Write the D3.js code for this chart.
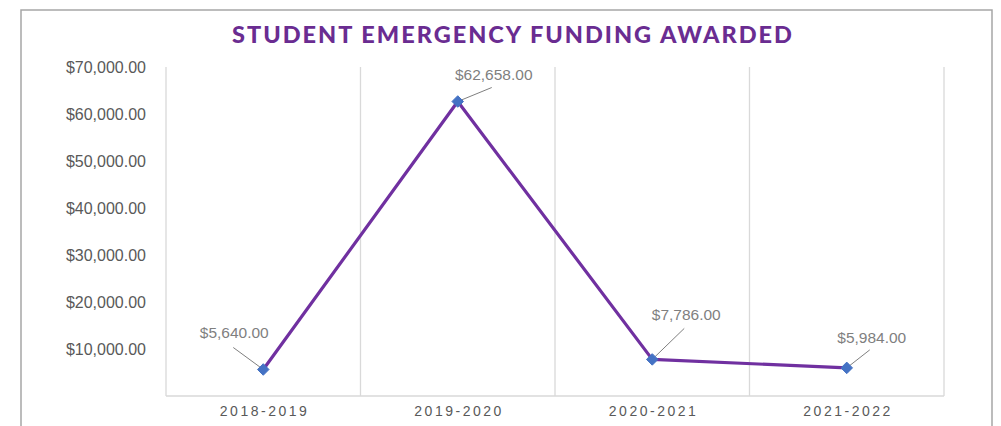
<!DOCTYPE html>
<html>
<head>
<meta charset="utf-8">
<script src="https://cdn.jsdelivr.net/npm/d3@7"></script>
<style>
  html, body { margin: 0; padding: 0; background: #fff; }
  svg { display: block; }
</style>
</head>
<body>
<svg id="chart" width="1001" height="426"></svg>
<script>
// Award totals by academic year
const years = ["2018-2019", "2019-2020", "2020-2021", "2021-2022"];
const awarded = [5640, 62658, 7786, 5984];
const yTicks = [10000, 20000, 30000, 40000, 50000, 60000, 70000];
const titleText = "STUDENT EMERGENCY FUNDING AWARDED";

// Data-label placement relative to each point (pixels)
const labelOffsets = [[-29, -37], [36, -27], [34, -45], [25, -30]];
const leaderEnds = [[-30, -22], [34, -14], [32, -31], [23, -18]];

const svg = d3.select("#chart");
const plot = { left: 166, right: 944, top: 67, bottom: 396 };

// Outer chart frame
svg.append("rect")
  .attr("x", 21).attr("y", 10)
  .attr("width", 971).attr("height", 430)
  .attr("fill", "#fff").attr("stroke", "#a6a6a6").attr("stroke-width", 1.5);

const x = d3.scaleBand().domain(years).range([plot.left, plot.right]).padding(0);
const y = d3.scaleLinear().domain([0, 70000]).range([plot.bottom, plot.top]);

// Vertical category gridlines
const bounds = years.map(d => x(d)).concat([plot.right]);
svg.append("g").selectAll("line").data(bounds).join("line")
  .attr("x1", d => d).attr("x2", d => d)
  .attr("y1", plot.top).attr("y2", plot.bottom)
  .attr("stroke", "#d9d9d9").attr("stroke-width", 1.3);

// Baseline
svg.append("line")
  .attr("x1", plot.left).attr("x2", plot.right)
  .attr("y1", plot.bottom).attr("y2", plot.bottom)
  .attr("stroke", "#d9d9d9").attr("stroke-width", 1.3);

// Y axis labels
const fmt = d3.format("$,.2f");
const yAxis = d3.axisLeft(y).tickValues(yTicks).tickFormat(fmt).tickSize(0).tickPadding(0);
const gy = svg.append("g").attr("transform", `translate(${plot.left - 20},0)`).call(yAxis);
gy.select(".domain").remove();
gy.selectAll("text")
  .attr("fill", "#595959")
  .style("font-family", "'Liberation Sans', Arial, sans-serif")
  .style("font-size", "16px");

// X axis labels
const xAxis = d3.axisBottom(x).tickSize(0).tickPadding(0);
const gx = svg.append("g").attr("transform", `translate(1.3,${plot.bottom + 10})`).call(xAxis);
gx.select(".domain").remove();
gx.selectAll("text")
  .attr("fill", "#595959")
  .attr("dy", "0.71em")
  .style("font-family", "'Liberation Sans', Arial, sans-serif")
  .style("font-size", "14px")
  .style("letter-spacing", "2.5px");

// Title
svg.append("text")
  .attr("x", 513).attr("y", 43)
  .attr("text-anchor", "middle")
  .attr("fill", "#6a2c91")
  .style("font-family", "Lato, 'Open Sans', sans-serif")
  .style("font-weight", "900")
  .style("font-size", "23.5px")
  .style("letter-spacing", "2px")
  .text(titleText);

const pts = years.map((d, i) => ({ year: d, v: awarded[i], px: x(d) + x.bandwidth() / 2, py: y(awarded[i]) }));

// Line
svg.append("path")
  .datum(pts)
  .attr("fill", "none")
  .attr("stroke", "#7030a0")
  .attr("stroke-width", 3.2)
  .attr("stroke-linejoin", "round")
  .attr("d", d3.line().x(d => d.px).y(d => d.py));

// Leader lines
svg.append("g").selectAll("line").data(pts).join("line")
  .attr("x1", d => d.px).attr("y1", d => d.py)
  .attr("x2", (d, i) => d.px + leaderEnds[i][0])
  .attr("y2", (d, i) => d.py + leaderEnds[i][1])
  .attr("stroke", "#7f7f7f").attr("stroke-width", 1);

// Diamond markers
svg.append("g").selectAll("path").data(pts).join("path")
  .attr("transform", d => `translate(${d.px},${d.py})`)
  .attr("d", d3.symbol().type(d3.symbolDiamond2).size(85))
  .attr("fill", "#4472c4")
  .attr("stroke", "#4472c4").attr("stroke-width", 1);

// Data labels
svg.append("g").selectAll("text").data(pts).join("text")
  .attr("x", (d, i) => d.px + labelOffsets[i][0])
  .attr("y", (d, i) => d.py + labelOffsets[i][1])
  .attr("dy", "0.35em")
  .attr("text-anchor", "middle")
  .attr("fill", "#7f7f7f")
  .style("font-family", "'Liberation Sans', Arial, sans-serif")
  .style("font-size", "15.5px")
  .text(d => fmt(d.v));
</script>
</body>
</html>
